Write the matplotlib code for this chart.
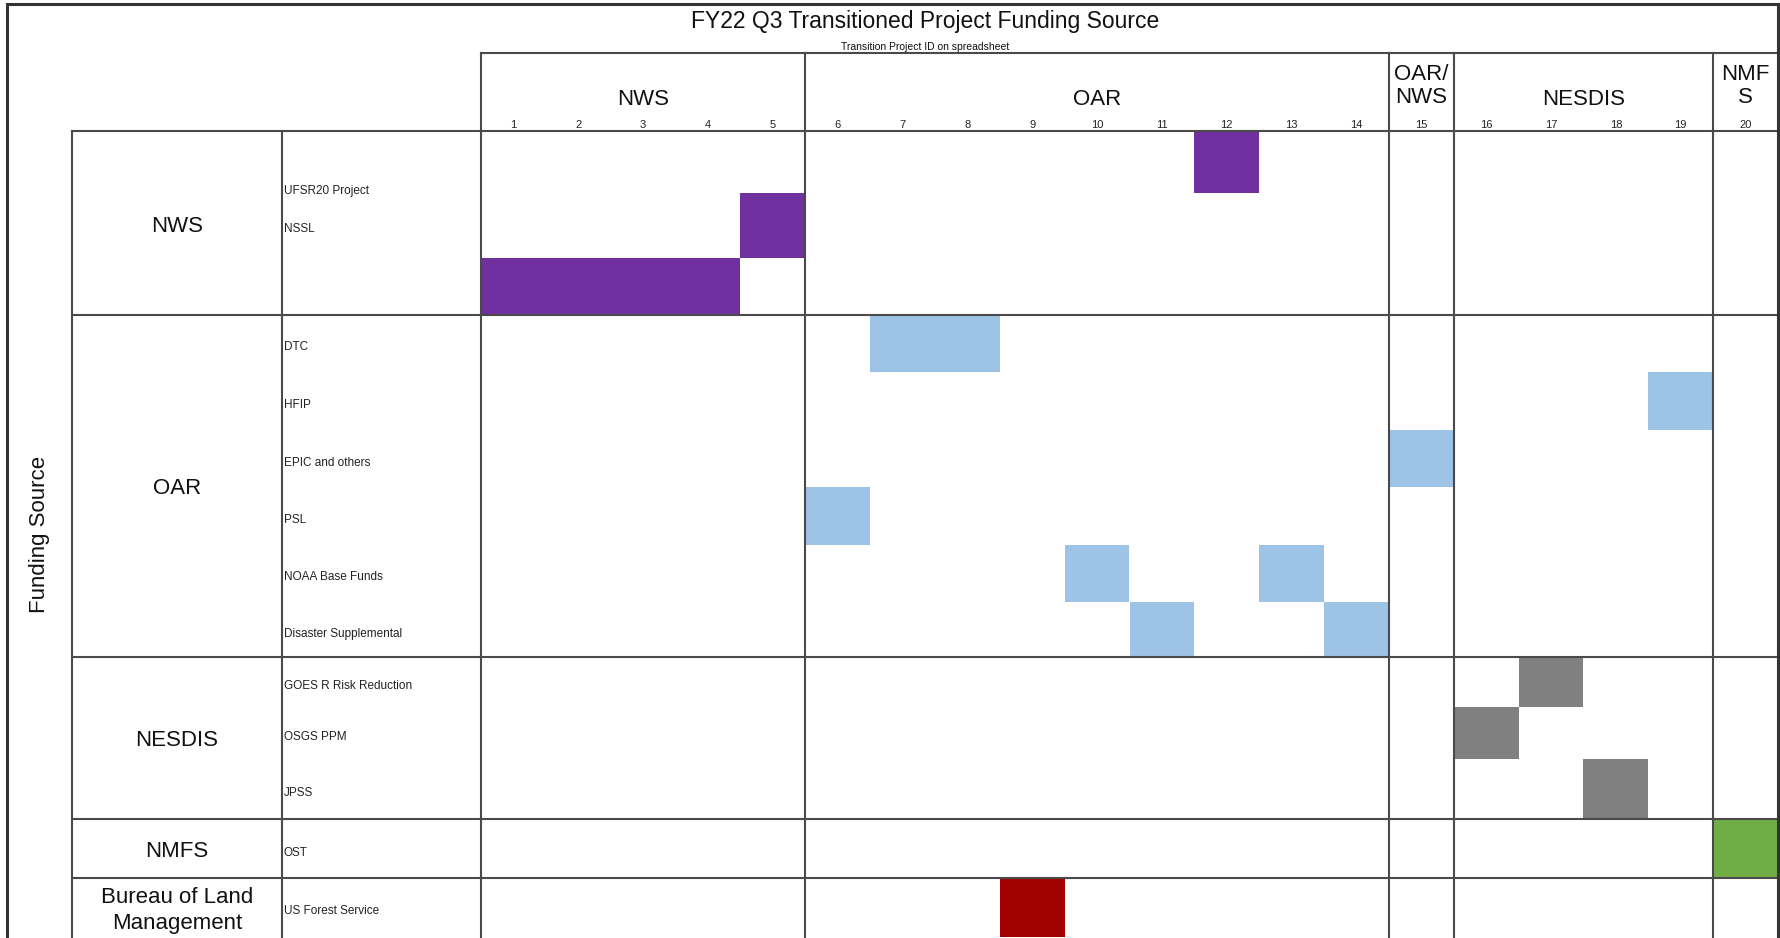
import matplotlib
matplotlib.use("Agg")
import matplotlib.pyplot as plt

plt.rcParams["font.family"] = ["Liberation Sans", "DejaVu Sans"]

# --- data ---------------------------------------------------------------
titulo = "FY22 Q3 Transitioned Project Funding Source"
subtitulo = "Transition Project ID on spreadsheet"

proyectos = list(range(1, 21))
grupos_proyecto = ["NWS", "OAR", "OAR/\nNWS", "NESDIS", "NMF\nS"]
rangos_proyecto = [(1, 5), (6, 14), (15, 15), (16, 19), (20, 20)]

fuentes = ["NWS", "OAR", "NESDIS", "NMFS", "Bureau of Land\nManagement"]
colores_fuente = ["#7030A0", "#9DC3E6", "#808080", "#70AD47", "#A00000"]

sub_nws = ["UFSR20 Project", "NSSL", ""]
sub_oar = ["DTC", "HFIP", "EPIC and others", "PSL", "NOAA Base Funds", "Disaster Supplemental"]
sub_nesdis = ["GOES R Risk Reduction", "OSGS PPM", "JPSS"]
sub_nmfs = ["OST"]
sub_blm = ["US Forest Service"]

ids_nws = [[12], [5], [1, 2, 3, 4]]
ids_oar = [[7, 8], [19], [15], [6], [10, 13], [11, 14]]
ids_nesdis = [[17], [16], [18]]
ids_nmfs = [[20]]
ids_blm = [[9]]

subfuentes = [sub_nws, sub_oar, sub_nesdis, sub_nmfs, sub_blm]
ids = [ids_nws, ids_oar, ids_nesdis, ids_nmfs, ids_blm]

# --- layout (pixels) ------------------------------------------------------
W, H = 1781, 938
alto_filas = [[62, 65, 57], [57, 58, 57, 58, 57, 55], [50, 52, 60], [59], [59]]
x_izq, x_sub, x_grid, x_der = 72, 282, 481, 1778
y_top, y_head, y_body = 4, 53, 131
ajuste_etiqueta = {"UFSR20 Project": 25}

fig = plt.figure(figsize=(W / 100, H / 100), dpi=100)

# grid of cells: x = project id, y = pixel rows from top
ax = fig.add_axes([x_grid / W, 0, (x_der - x_grid) / W, (H - y_body) / H])
ax.set_xlim(0.5, 20.5)
ax.set_ylim(H, y_body)
ax.axis("off")

# overlay for frame and text
fr = fig.add_axes([0, 0, 1, 1], zorder=3)
fr.set_xlim(0, W)
fr.set_ylim(H, 0)
fr.axis("off")
fr.patch.set_alpha(0)

ancho_col = (x_der - x_grid) / 20


def x_col(p):
    return x_grid + (p - 0.5) * ancho_col


lc = "#4a4a4a"
lw = 1.5

y = y_body
limites = []
for g, fuente in enumerate(fuentes):
    y0 = y
    for k, sub in enumerate(subfuentes[g]):
        h = alto_filas[g][k]
        ax.bar(ids[g][k], h, bottom=y, width=1.0, color=colores_fuente[g],
               align="center", linewidth=0)
        if sub:
            fr.text(x_sub + 2, y + h / 2 + 4 + ajuste_etiqueta.get(sub, 0), sub,
                    fontsize=8.5, ha="left", va="center", color="#222222")
        y += h
    limites.append(y)
    fr.text((x_izq + x_sub) / 2, (y0 + min(y, H)) / 2 + 3, fuente,
            fontsize=16, ha="center", va="center", color="#111111",
            linespacing=1.3)

# horizontal group lines
fr.plot([x_izq, x_der], [y_body, y_body], color=lc, lw=lw)
for yl in limites[:-1]:
    fr.plot([x_izq, x_der], [yl, yl], color=lc, lw=lw)
fr.plot([x_grid, x_der], [y_head, y_head], color=lc, lw=lw)

# vertical lines
fr.plot([x_izq, x_izq], [y_body, H], color=lc, lw=lw)
fr.plot([x_sub, x_sub], [y_body, H], color=lc, lw=lw)
for a, b in rangos_proyecto:
    xl = x_col(a - 0.5)
    fr.plot([xl, xl], [y_head, H], color=lc, lw=lw)

# header labels
for nombre, (a, b) in zip(grupos_proyecto, rangos_proyecto):
    n = nombre.count("\n")
    fr.text((x_col(a - 0.5) + x_col(b + 0.5)) / 2, 99.5 - n * 13.5, nombre,
            fontsize=16, ha="center", va="center", color="#111111",
            linespacing=1.18)
for p in proyectos:
    fr.text(x_col(p), 125, str(p), fontsize=8, ha="center", va="center",
            color="#222222")

# outer border
fr.plot([7, 7, x_der, x_der], [H, y_top, y_top, H], color="#333333", lw=2.2,
        solid_joinstyle="miter")

fr.text(925, 21.5, titulo, fontsize=16.5, ha="center", va="center", color="#111111")
fr.text(925, 47.5, subtitulo, fontsize=7.5, ha="center", va="center", color="#111111")
fr.text(40, 534, "Funding Source", fontsize=16, rotation=90, ha="center",
        va="center", color="#111111")

fig.savefig("out.png", dpi=100)
